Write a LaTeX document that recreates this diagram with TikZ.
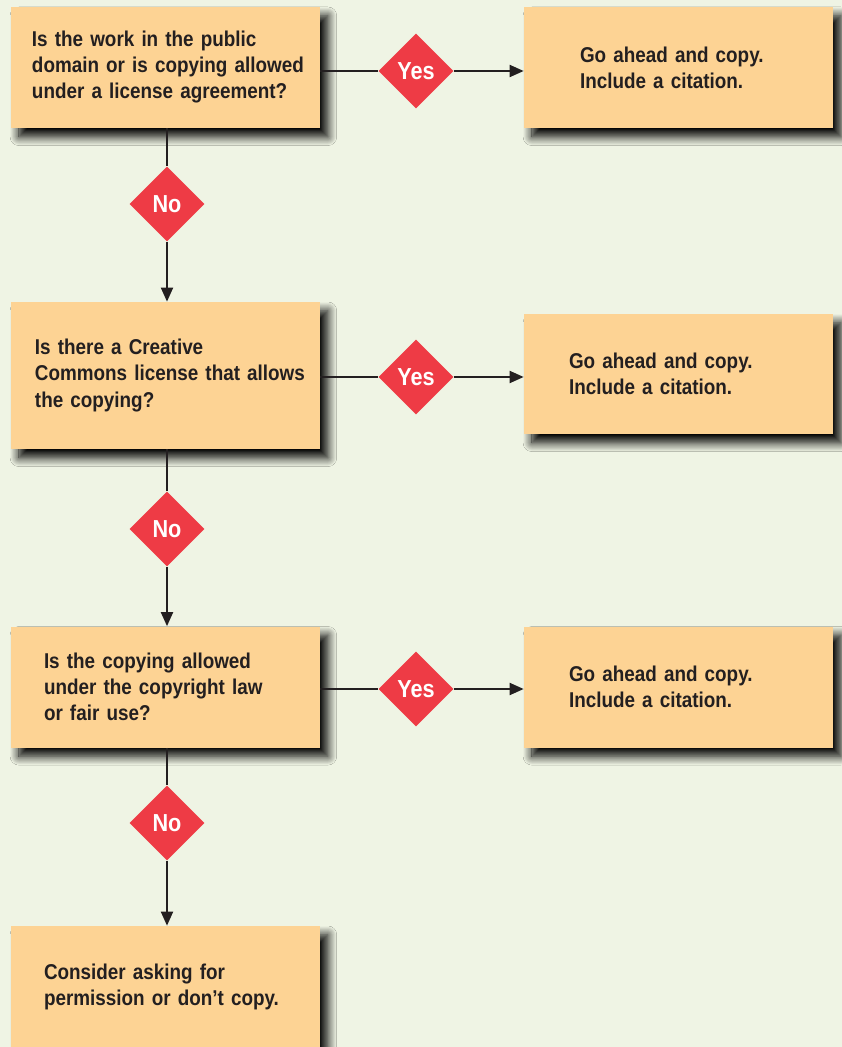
\documentclass[tikz,border=0pt]{standalone}
\usepackage{fontspec}
\setmainfont{Liberation Sans}[FakeStretch=0.88]
\usetikzlibrary{shapes.geometric,arrows.meta,shadows.blur,positioning}

\definecolor{pagebg}{HTML}{EFF4E4}
\definecolor{boxfill}{HTML}{FDD394}
\definecolor{diamred}{HTML}{EE3B45}
\definecolor{linedark}{HTML}{231F20}

\tikzset{
    stepbox/.style={fill=boxfill, text width=6.18cm, minimum height=2.42cm, inner sep=0pt, align=left,
        text=linedark, font=\bfseries\fontsize{12.2pt}{14.8pt}\selectfont,
        blur shadow={shadow xshift=4.5pt, shadow yshift=-5pt, shadow blur radius=5pt,
            shadow blur steps=12, shadow opacity=100}},
    inset/.style={execute at begin node={\leftskip=#1\relax}},
    choice/.style={diamond, aspect=1, fill=diamred, minimum width=1.5cm, minimum height=1.5cm,
        inner sep=0pt, text=white, font=\bfseries\fontsize{14pt}{14pt}\selectfont},
    link/.style={draw=linedark, line width=1.1pt},
    flow/.style={link, -{Triangle[length=0.28cm,width=0.24cm]}},
}

\begin{document}
\begin{tikzpicture}
    % Page size and background
    \useasboundingbox (0,0) rectangle (16.84,-20.94);
    \fill[pagebg] (0,0) rectangle (16.84,-20.94);

    % Question boxes (left column)
    \node[stepbox, inset=0.42cm] (q1) at (3.31,-1.35)
        {Is the work in the public\\domain or is copying allowed\\under a license agreement?};
    \node[stepbox, inset=0.48cm, minimum height=2.94cm] (q2) at (3.31,-7.51)
        {Is there a Creative\\Commons license that allows\\the copying?};
    \node[stepbox, inset=0.66cm] (q3) at (3.31,-13.74)
        {Is the copying allowed\\under the copyright law\\or fair use?};
    \node[stepbox, inset=0.66cm] (q4) at (3.31,-19.73)
        {Consider asking for\\permission or don't copy.};

    % Answer boxes (right column)
    \node[stepbox, inset=1.12cm] (a1) at (13.57,-1.35)
        {Go ahead and copy.\\Include a citation.};
    \node[stepbox, inset=0.90cm, minimum height=2.40cm] (a2) at (13.57,-7.48)
        {Go ahead and copy.\\Include a citation.};
    \node[stepbox, inset=0.90cm] (a3) at (13.57,-13.74)
        {Go ahead and copy.\\Include a citation.};

    % Yes / No diamonds
    \node[choice] (y1) at (8.32,-1.42) {Yes};
    \node[choice] (y2) at (8.32,-7.54) {Yes};
    \node[choice] (y3) at (8.32,-13.78) {Yes};
    \node[choice] (n1) at (3.34,-4.08) {No};
    \node[choice] (n2) at (3.34,-10.58) {No};
    \node[choice] (n3) at (3.34,-16.46) {No};

    % Connectors
    \foreach \i/\j in {1/2,2/3,3/4} {
        \draw[link] (n\i.north |- q\i.south) -- (n\i.north);
        \draw[flow] (n\i.south) -- (n\i.south |- q\j.north);
    }
    \foreach \i in {1,2,3} {
        \draw[link] (y\i.west -| q\i.east) -- (y\i.west);
        \draw[flow] (y\i.east) -- (y\i.east -| a\i.west);
    }
\end{tikzpicture}
\end{document}
